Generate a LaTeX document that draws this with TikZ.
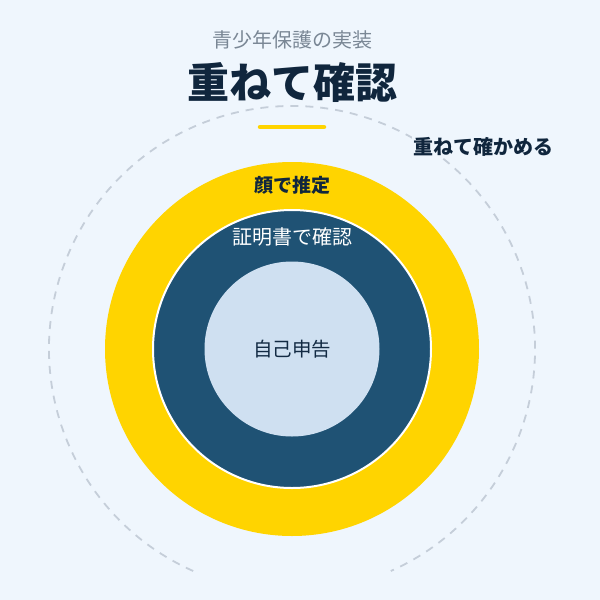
\documentclass[tikz,border=0pt]{standalone}
\usepackage{fontspec}
\newfontfamily\cjk{Noto Sans CJK JP}
\definecolor{bgc}{HTML}{EFF6FD}
\definecolor{ylw}{HTML}{FFD400}
\definecolor{navy}{HTML}{1F5274}
\definecolor{lightc}{HTML}{CFE0F1}
\definecolor{ink}{HTML}{10263D}
\definecolor{subg}{HTML}{7A8795}
\definecolor{dashg}{HTML}{C5CED9}
\tikzset{
  disc/.style={circle, inner sep=0pt, outer sep=0pt},
  lbl/.style={font=\cjk\fontsize{20}{24}\selectfont, inner sep=1pt},
}
\begin{document}
\begin{tikzpicture}[x=1pt,y=-1pt]
\fill[bgc] (0,0) rectangle (600,600);
\useasboundingbox (0,0) rectangle (600,600);
\coordinate (c) at (292,349);
% dashed outer arc
\draw[dashg, line width=1.8pt, dash pattern=on 8pt off 7pt]
  ([shift={(114:243)}]c) arc[start angle=114, end angle=426, radius=243];
% rings
\node[disc, fill=ylw, minimum size=374pt] (outer) at (c) {};
\node[disc, fill=navy, draw=white, line width=2pt, minimum size=278pt] (mid) at (c) {};
\node[disc, fill=lightc, minimum size=175pt] (inner) at (c) {};
% titles
\node[font=\cjk\fontsize{20}{24}\selectfont, text=subg] (sub) at (292,40) {青少年保護の実装};
\node[font=\cjk\bfseries\fontsize{42}{48}\selectfont, text=ink] (title) at (292,83) {重ねて確認};
\coordinate (barL) at (260,127);
\coordinate (barR) at (324,127);
\draw[ylw, line width=4.5pt, line cap=round] (barL) -- (barR);
% labels
\node[lbl, font=\cjk\bfseries\fontsize{20}{24}\selectfont, text=ink, fill=bgc] (outerlbl) at (483,147) {重ねて確かめる};
\node[lbl, font=\cjk\bfseries\fontsize{19}{23}\selectfont, text=ink] (facelbl) at (292,185) {顔で推定};
\node[lbl, text=white] (certlbl) at (292,237) {証明書で確認};
\node[lbl, font=\cjk\fontsize{19.5}{23}\selectfont, text=ink!90!navy] (selflbl) at (292,349) {自己申告};
\end{tikzpicture}
\end{document}
